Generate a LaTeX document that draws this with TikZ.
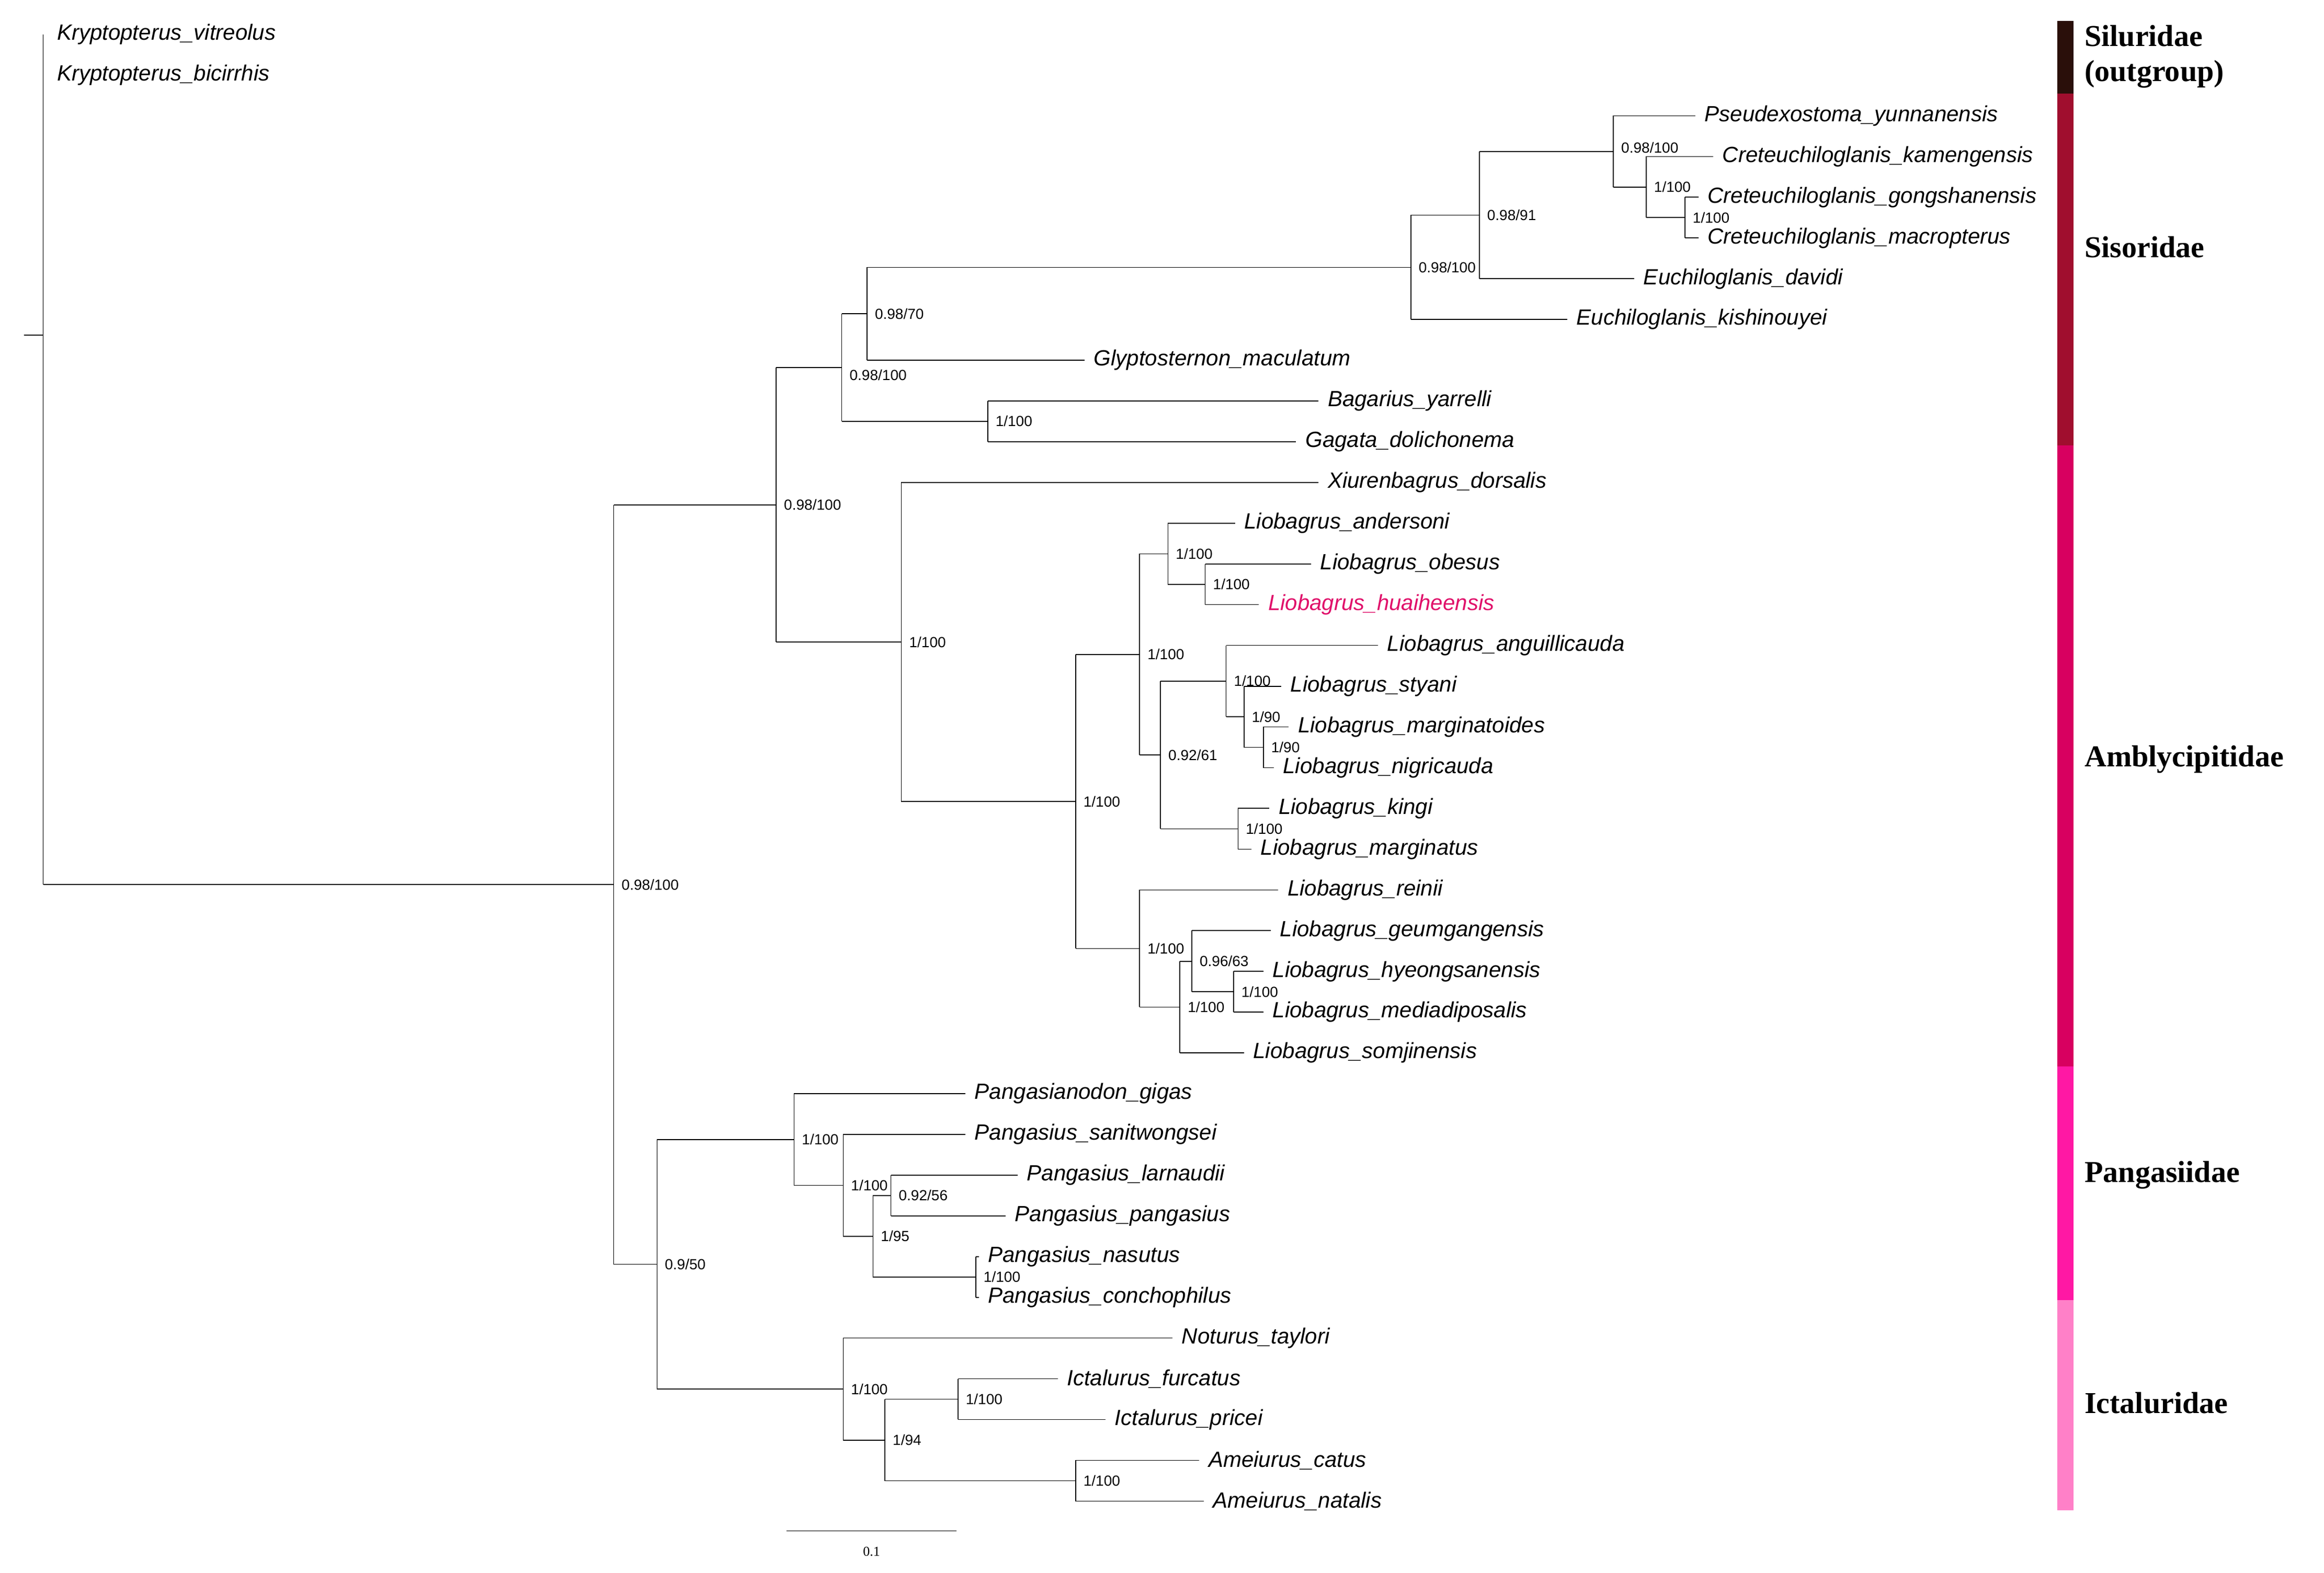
\documentclass[tikz,border=0pt]{standalone}
\usepackage{fontspec}
\setmainfont{Liberation Sans}
\newfontfamily\famf{Liberation Serif}
\definecolor{hua}{HTML}{E0106A}
\begin{document}
\begin{tikzpicture}[x=0.05cm,y=-0.05cm,line width=0.8pt,
 tx/.style={anchor=west,inner sep=0pt,font=\fontsize{21}{24}\selectfont\itshape},
 nl/.style={anchor=west,inner sep=0pt,font=\fontsize{14}{16}\selectfont},
 fam/.style={anchor=west,inner sep=0pt,align=left,font=\famf\bfseries\fontsize{29}{33}\selectfont}]
\useasboundingbox (0,0) rectangle (1560,1056);
\newcommand\vl[3]{\draw (#1,#2) -- (#1,#3);}
\newcommand\hl[3]{\draw (#1,#3) -- (#2,#3);}
\newcommand\tp[5]{\hl{#1}{#2}{#3}\node[tx] (#4) at (#2+6,#3) {#5};}
\newcommand\lb[3]{\node[nl] at (#1+5,#2) {#3};}
% root
\draw (16,225) -- (29,225);
\vl{29}{23}{594}
\node[tx] (kv) at (38,23) {Kryptopterus\_vitreolus};
\node[tx] (kb) at (38,50.4) {Kryptopterus\_bicirrhis};
\hl{29}{412}{594}
% A
\vl{412}{339}{849}\lb{412}{594}{0.98/100}
\hl{412}{521}{339}\hl{412}{441}{849}
% B
\vl{521}{246.8}{431.1}\lb{521}{339}{0.98/100}
\hl{521}{565}{246.8}\hl{521}{605}{431.1}
% D
\vl{565}{210.7}{282.9}\lb{565}{252}{0.98/100}
\hl{565}{582}{210.7}\hl{565}{663}{282.9}
% F
\vl{582}{179.5}{241.9}\lb{582}{210.7}{0.98/70}
\hl{582}{947}{179.5}
\tp{582}{728}{241.9}{gly}{Glyptosternon\_maculatum}
% H
\vl{947}{144.4}{214.5}\lb{947}{179.5}{0.98/100}
\hl{947}{993}{144.4}
\tp{947}{1052}{214.5}{ek}{Euchiloglanis\_kishinouyei}
% I
\vl{993}{101.7}{187.2}\lb{993}{144.4}{0.98/91}
\hl{993}{1083}{101.7}
\tp{993}{1097}{187.2}{ed}{Euchiloglanis\_davidi}
% J
\vl{1083}{77.7}{125.6}\lb{1083}{99}{0.98/100}
\tp{1083}{1138}{77.7}{py}{Pseudexostoma\_yunnanensis}
\hl{1083}{1105}{125.6}
% K
\vl{1105}{105.1}{146.1}\lb{1105}{125.6}{1/100}
\tp{1105}{1150}{105.1}{ck}{Creteuchiloglanis\_kamengensis}
\hl{1105}{1131}{146.1}
% L
\vl{1131}{132.4}{159.8}\lb{1131}{146.1}{1/100}
\tp{1131}{1140}{132.4}{cg}{Creteuchiloglanis\_gongshanensis}
\tp{1131}{1140}{159.8}{cm}{Creteuchiloglanis\_macropterus}
% G
\vl{663}{269.2}{296.6}\lb{663}{282.9}{1/100}
\tp{663}{885}{269.2}{by}{Bagarius\_yarrelli}
\tp{663}{870}{296.6}{gd}{Gagata\_dolichonema}
% E
\vl{605}{324}{538.2}\lb{605}{431.1}{1/100}
\tp{605}{885}{324}{xd}{Xiurenbagrus\_dorsalis}
\hl{605}{722}{538.2}
% M
\vl{722}{439.4}{636.9}\lb{722}{538.2}{1/100}
\hl{722}{765}{439.4}\hl{722}{765}{636.9}
% N
\vl{765}{371.9}{506.9}\lb{765}{439.4}{1/100}
\hl{765}{784}{371.9}\hl{765}{779}{506.9}
% P
\vl{784}{351.3}{392.4}\lb{784}{371.9}{1/100}
\tp{784}{829}{351.3}{la}{Liobagrus\_andersoni}
\hl{784}{809}{392.4}
% R
\vl{809}{378.7}{406}\lb{809}{392.4}{1/100}
\tp{809}{880}{378.7}{lo}{Liobagrus\_obesus}
\hl{809}{845}{406}\node[tx,text=hua] (lh) at (851,406) {Liobagrus\_huaiheensis};
% Q
\vl{779}{457.3}{556.5}\lb{779}{506.9}{0.92/61}
\hl{779}{823}{457.3}\hl{779}{831}{556.5}
% S
\vl{823}{433.4}{481.3}\lb{823}{457.3}{1/100}
\tp{823}{925}{433.4}{lan}{Liobagrus\_anguillicauda}
\hl{823}{835}{481.3}
% U
\vl{835}{460.8}{501.8}\lb{835}{481.3}{1/90}
\tp{835}{860}{460.8}{ls}{Liobagrus\_styani}
\hl{835}{848}{501.8}
% V
\vl{848}{488.1}{515.5}\lb{848}{501.8}{1/90}
\tp{848}{865}{488.1}{lm}{Liobagrus\_marginatoides}
\tp{848}{855}{515.5}{ln}{Liobagrus\_nigricauda}
% T
\vl{831}{542.8}{570.2}\lb{831}{556.5}{1/100}
\tp{831}{852}{542.8}{lk}{Liobagrus\_kingi}
\tp{831}{840}{570.2}{lmg}{Liobagrus\_marginatus}
% O
\vl{765}{597.6}{676.2}\lb{765}{636.9}{1/100}
\tp{765}{858}{597.6}{lr}{Liobagrus\_reinii}
\hl{765}{792}{676.2}
% W
\vl{792}{645.5}{707}\lb{792}{676.2}{1/100}
\hl{792}{800}{645.5}
\tp{792}{835}{707}{lsj}{Liobagrus\_somjinensis}
% X
\vl{800}{624.9}{666}\lb{800}{645.5}{0.96/63}
\tp{800}{853}{624.9}{lg}{Liobagrus\_geumgangensis}
\hl{800}{828}{666}
% Y
\vl{828}{652.3}{679.6}\lb{828}{666}{1/100}
\tp{828}{848}{652.3}{lhy}{Liobagrus\_hyeongsanensis}
\tp{828}{848}{679.6}{lme}{Liobagrus\_mediadiposalis}
% C
\vl{441}{765.2}{932.7}\lb{441}{849}{0.9/50}
\hl{441}{533}{765.2}\hl{441}{566}{932.7}
% Z
\vl{533}{734.4}{795.9}\lb{533}{765.2}{1/100}
\tp{533}{648}{734.4}{pg}{Pangasianodon\_gigas}
\hl{533}{566}{795.9}
% AB
\vl{566}{761.7}{830.1}\lb{566}{795.9}{1/100}
\tp{566}{648}{761.7}{ps}{Pangasius\_sanitwongsei}
\hl{566}{586}{830.1}
% AC
\vl{586}{802.8}{857.5}\lb{586}{830.1}{1/95}
\hl{586}{598}{802.8}\hl{586}{655}{857.5}
% AD
\vl{598}{789.1}{816.4}\lb{598}{802.8}{0.92/56}
\tp{598}{683}{789.1}{pl}{Pangasius\_larnaudii}
\tp{598}{675}{816.4}{pp}{Pangasius\_pangasius}
% AE
\vl{655}{843.8}{871.2}\lb{655}{857.5}{1/100}
\tp{655}{657}{843.8}{pn}{Pangasius\_nasutus}
\tp{655}{657}{871.2}{pc}{Pangasius\_conchophilus}
% AA
\vl{566}{898.5}{967}\lb{566}{932.7}{1/100}
\tp{566}{787}{898.5}{nt}{Noturus\_taylori}
\hl{566}{594}{967}
% AF
\vl{594}{939.6}{994.3}\lb{594}{967}{1/94}
\hl{594}{643}{939.6}\hl{594}{722}{994.3}
% AG
\vl{643}{925.9}{953.2}\lb{643}{939.6}{1/100}
\tp{643}{710}{925.9}{if}{Ictalurus\_furcatus}
\tp{643}{742}{953.2}{ip}{Ictalurus\_pricei}
% AH
\vl{722}{980.6}{1008}\lb{722}{994.3}{1/100}
\tp{722}{805}{980.6}{ac}{Ameiurus\_catus}
\tp{722}{808}{1008}{an}{Ameiurus\_natalis}
% scale bar
\draw (528,1028) -- (642,1028);
\node[font=\famf\fontsize{13}{15}\selectfont] (sb) at (585,1042) {0.1};
% family bar
\fill[fill={rgb,255:red,42;green,15;blue,10}] (1381,14) rectangle (1392,63);
\fill[fill={rgb,255:red,160;green,14;blue,46}] (1381,63) rectangle (1392,299);
\fill[fill={rgb,255:red,216;green,0;blue,96}] (1381,299) rectangle (1392,716);
\fill[fill={rgb,255:red,255;green,24;blue,164}] (1381,716) rectangle (1392,873);
\fill[fill={rgb,255:red,255;green,128;blue,200}] (1381,873) rectangle (1392,1014);
\node[fam] (f1) at (1399,38) {Siluridae\\(outgroup)};
\node[fam] (f2) at (1399,166) {Sisoridae};
\node[fam] (f3) at (1399,510) {Amblycipitidae};
\node[fam] (f4) at (1399,789) {Pangasiidae};
\node[fam] (f5) at (1399,942) {Ictaluridae};
\end{tikzpicture}
\end{document}
